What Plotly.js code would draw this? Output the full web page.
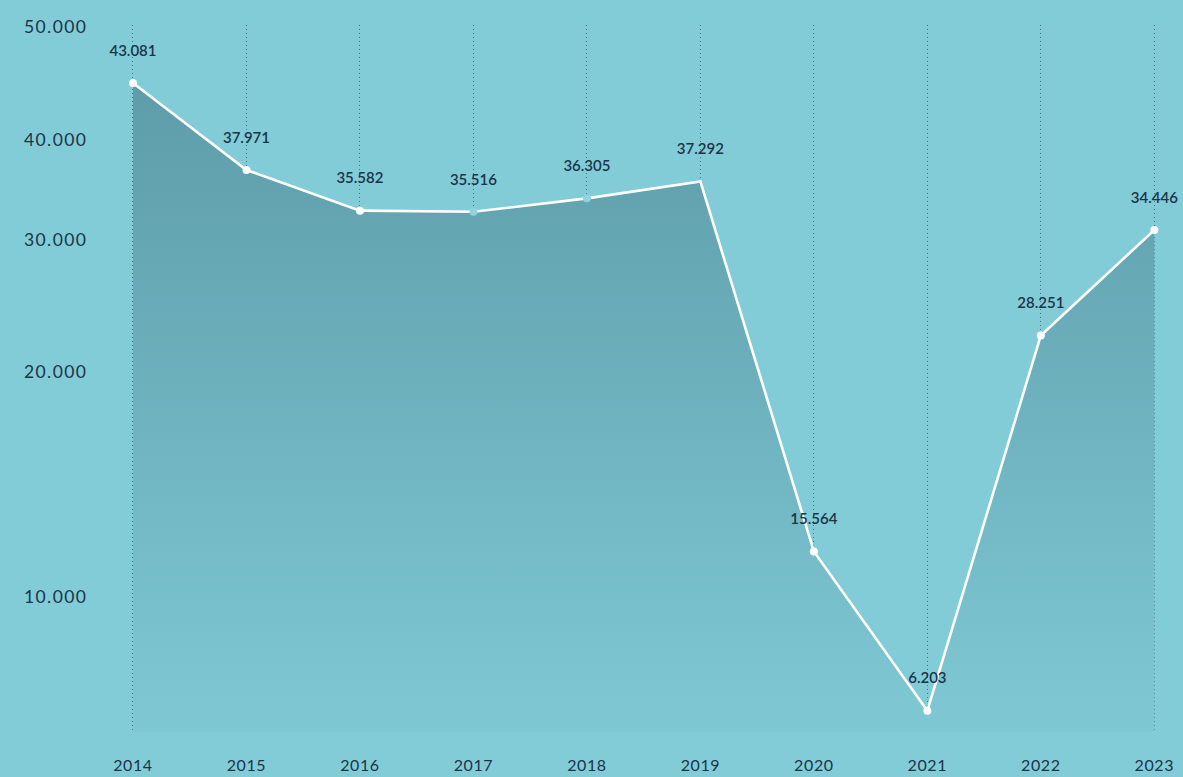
<!DOCTYPE html>
<html>
<head>
<meta charset="utf-8">
<script src="https://cdn.plot.ly/plotly-3.0.1.min.js"></script>
<style>
  html, body { margin: 0; padding: 0; background: #82CCD8; }
  #chart { width: 1183px; height: 777px; }
  .ytick text { letter-spacing: 1.4px; }
  .xtick text { letter-spacing: 0.6px; }
</style>
</head>
<body>
<div id="chart"></div>
<script>
// ---- data ----
const years = [2014, 2015, 2016, 2017, 2018, 2019, 2020, 2021, 2022, 2023];
const values = [43081, 37971, 35582, 35516, 36305, 37292, 15564, 6203, 28251, 34446];
const valueLabels = ['43.081', '37.971', '35.582', '35.516', '36.305', '37.292', '15.564', '6.203', '28.251', '34.446'];
const yTickText = ['50.000', '40.000', '30.000', '20.000', '10.000'];

// ---- label placement on the value axis (as drawn in the reference) ----
const yTickAt = [46373, 39733, 33858, 26104, 12884];
const yRange = [4953, 46490];

// ---- styles ----
const markerColors = ['#ffffff', '#ffffff', '#ffffff', '#8FD3DE', '#8FD3DE', 'rgba(255,255,255,0)', '#ffffff', '#ffffff', '#ffffff', '#ffffff'];
const textColor = '#1B3448';
const bg = '#82CCD8';
const fontFam = 'Lato, "Noto Sans", sans-serif';

const area = {
  type: 'scatter',
  x: years,
  y: values,
  mode: 'lines+markers',
  line: { color: '#ffffff', width: 2.6 },
  marker: { color: markerColors, size: 8, line: { width: 0 } },
  fill: 'tozeroy',
  fillgradient: {
    type: 'vertical',
    start: yRange[0],
    stop: values[0],
    colorscale: [[0, '#7EC8D4'], [1, '#5E9CA9']]
  },
  cliponaxis: false,
  hoverinfo: 'x+y'
};

const labels = {
  type: 'scatter',
  x: years,
  y: values,
  mode: 'markers+text',
  text: valueLabels,
  textposition: 'top center',
  textfont: { family: fontFam, size: 15, color: textColor, weight: 600 },
  marker: { color: 'rgba(0,0,0,0)', size: 36, line: { width: 0 } },
  cliponaxis: false,
  hoverinfo: 'skip'
};

const layout = {
  width: 1183,
  height: 777,
  paper_bgcolor: bg,
  plot_bgcolor: bg,
  margin: { l: 12, r: 23, t: 25, b: 45 },
  showlegend: false,
  font: { family: fontFam, color: textColor },
  xaxis: {
    domain: [0.10046, 1],
    range: [2013.95, 2023.05],
    tickvals: years,
    ticktext: years.map(String),
    showgrid: true,
    gridcolor: '#3F7C89',
    griddash: '1px,3px',
    gridwidth: 1,
    zeroline: false,
    showline: false,
    ticks: '',
    ticklabelstandoff: 22,
    tickfont: { size: 16, color: textColor }
  },
  yaxis: {
    range: yRange,
    anchor: 'free',
    position: 0,
    tickvals: yTickAt,
    ticktext: yTickText,
    ticklabelposition: 'inside',
    ticklabeloverflow: 'allow',
    ticklabelstandoff: 8,
    showgrid: false,
    zeroline: false,
    showline: false,
    ticks: '',
    tickfont: { size: 17.5, color: textColor }
  }
};

Plotly.newPlot('chart', [area, labels], layout, { displayModeBar: false, staticPlot: true });
</script>
</body>
</html>
